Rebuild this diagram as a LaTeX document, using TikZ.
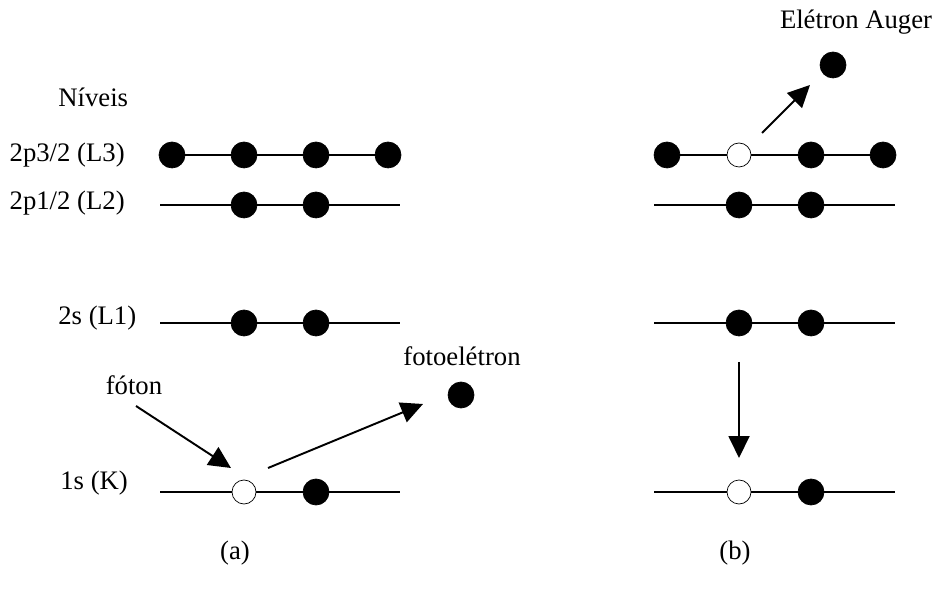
\documentclass[tikz,border=0pt]{standalone}
\usepackage{fontspec}
\setmainfont{Liberation Serif}
\usetikzlibrary{arrows.meta,positioning}

\begin{document}
\begin{tikzpicture}[
  x=0.02cm, y=-0.02cm,
  font=\fontsize{15.2}{18}\selectfont,
  lbl/.style={inner sep=0pt},
  full/.style={circle, fill=black, draw=black, inner sep=0pt, minimum size=0.52cm},
  hole/.style={circle, fill=white, draw=black, thin, inner sep=0pt, minimum size=0.48cm},
  lvl/.style={line width=1.1pt},
  tarr/.style={-{Triangle[length=0.44cm, width=0.42cm]}, line width=1.1pt}
]
\useasboundingbox (0,0) rectangle (935,590);

% Labels of the levels
\node[lbl, anchor=west] (niv) at (58,97) {Níveis};
\node[lbl, anchor=east] (tl3) at (125,155) {2p3/2 (L3)};
\node[lbl, anchor=east] (tl2) at (125,203) {2p1/2 (L2)};
\node[lbl, anchor=west] (tl1) at (58,318) {2s (L1)};
\node[lbl, anchor=west] (tk)  at (60,483) {1s (K)};

% Level lines (a)
\coordinate (al2w) at (160,205); \coordinate (al2e) at (400,205);
\coordinate (al1w) at (160,323); \coordinate (al1e) at (400,323);
\coordinate (akw)  at (160,492); \coordinate (ake)  at (400,492);
\draw[lvl] (172,155) -- (388,155);
\draw[lvl] (al2w) -- (al2e);
\draw[lvl] (al1w) -- (al1e);
\draw[lvl] (akw) -- (ake);

% Level lines (b)
\coordinate (bl2w) at (654,205); \coordinate (bl2e) at (895,205);
\coordinate (bl1w) at (654,323); \coordinate (bl1e) at (895,323);
\coordinate (bkw)  at (654,492); \coordinate (bke)  at (895,492);
\draw[lvl] (667,155) -- (883,155);
\draw[lvl] (bl2w) -- (bl2e);
\draw[lvl] (bl1w) -- (bl1e);
\draw[lvl] (bkw) -- (bke);

% Electrons (a)
\foreach \x/\n in {172/1, 244/2, 316/3, 388/4}
  \node[full] (a3\n) at (\x,155) {};
\node[full] (a21) at (244,205) {};
\node[full] (a22) at (316,205) {};
\node[full] (a11) at (244,323) {};
\node[full] (a12) at (316,323) {};
\node[hole] (ak1) at (244,492) {};
\node[full] (ak2) at (316,492) {};

% Electrons (b)
\node[full] (b31) at (667,155) {};
\node[hole] (b32) at (739,155) {};
\node[full] (b33) at (811,155) {};
\node[full] (b34) at (883,155) {};
\node[full] (b21) at (739,205) {};
\node[full] (b22) at (811,205) {};
\node[full] (b11) at (739,323) {};
\node[full] (b12) at (811,323) {};
\node[hole] (bk1) at (739,492) {};
\node[full] (bk2) at (811,492) {};

% Emitted electrons
\node[full] (foto) at (461,395) {};
\node (tfoto) at (462,356) {fotoelétron};
\node[full] (auger) at (833,65) {};
\node (taug) at (856,22) {Elétron Auger};

% Photon and transitions
\node (tfot) at (134,385) {fóton};
\coordinate (fin) at (136,406);
\draw[tarr] (fin) -- ([shift={(-13,-24)}]ak1.center);
\draw[tarr] ([shift={(24,-24)}]ak1.center) -- ([shift={(-38,9)}]foto.center);
\draw[tarr] ([shift={(23,-22)}]b32.center) -- ([shift={(-23,20)}]auger.center);
\draw[tarr] ([shift={(0,39)}]b11.center) -- ([shift={(0,-34)}]bk1.center);

% Captions
\node (capa) at (235,553) {(a)};
\node (capb) at (735,553) {(b)};
\end{tikzpicture}
\end{document}
